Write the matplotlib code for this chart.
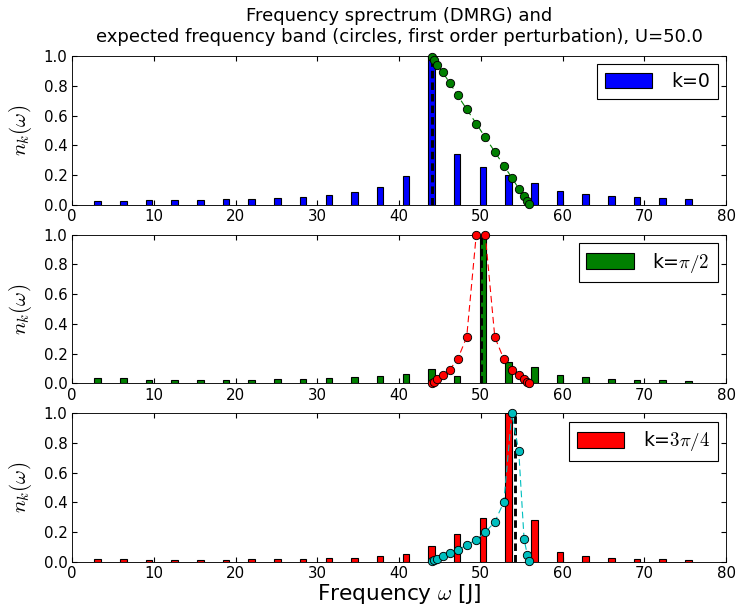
import matplotlib
matplotlib.use("Agg")
import matplotlib.pyplot as plt

plt.rcParams['mathtext.fontset'] = 'cm'
plt.rcParams['font.family'] = ['DejaVu Sans']
plt.rcParams['xtick.direction'] = 'in'
plt.rcParams['ytick.direction'] = 'in'
plt.rcParams['xtick.top'] = True
plt.rcParams['ytick.right'] = True
plt.rcParams['font.size'] = 12

# DMRG frequency grid (omega = n*pi)
freqs = [3.14, 6.28, 9.42, 12.57, 15.71, 18.85, 21.99, 25.13, 28.27, 31.42,
         34.56, 37.70, 40.84, 43.98, 47.12, 50.27, 53.41, 56.55, 59.69, 62.83,
         65.97, 69.12, 72.26, 75.40]

# spectral weights n_k(omega)
n_k0 = [0.027, 0.029, 0.036, 0.036, 0.036, 0.038, 0.043, 0.049, 0.056, 0.067,
        0.085, 0.121, 0.197, 1.0, 0.342, 0.253, 0.201, 0.150, 0.096, 0.074,
        0.063, 0.056, 0.047, 0.043]
n_kpi2 = [0.034, 0.034, 0.025, 0.022, 0.022, 0.022, 0.025, 0.027, 0.029, 0.034,
          0.040, 0.049, 0.061, 0.096, 0.052, 1.0, 0.141, 0.112, 0.056, 0.040,
          0.029, 0.022, 0.020, 0.016]
n_k3pi4 = [0.020, 0.016, 0.011, 0.013, 0.013, 0.013, 0.016, 0.018, 0.020, 0.022,
           0.027, 0.036, 0.049, 0.106, 0.184, 0.294, 1.0, 0.281, 0.063, 0.038,
           0.025, 0.018, 0.016, 0.011]

# first-order perturbation band
band_w = [44.05, 44.3, 44.7, 45.35, 46.2, 47.18, 48.28, 49.45, 50.55, 51.72,
          52.82, 53.8, 54.65, 55.3, 55.7, 55.95]
band_k0 = [0.996, 0.975, 0.94, 0.89, 0.82, 0.735, 0.643, 0.546, 0.454, 0.357,
           0.265, 0.183, 0.11, 0.058, 0.025, 0.004]
band_kpi2 = [0.004, 0.012, 0.027, 0.054, 0.092, 0.163, 0.311, 1.0, 1.0, 0.311,
             0.163, 0.092, 0.054, 0.027, 0.012, 0.004]
band_k3pi4 = [0.003, 0.010, 0.020, 0.036, 0.056, 0.079, 0.112, 0.148, 0.198, 0.268,
              0.402, 1.0, 0.744, 0.153, 0.045, 0.007]

# expected peak positions
peak_w = [44.0, 50.0, 54.24]

labels = ['k=0', r'k=$\pi/2$', r'k=$3\pi/4$']
bar_colors = ['#0000ff', '#008000', '#ff0000']
band_colors = ['#008000', '#ff0000', '#00bfbf']
spectra = [n_k0, n_kpi2, n_k3pi4]
bands = [band_k0, band_kpi2, band_k3pi4]

W, H = 737, 615
fig = plt.figure(figsize=(W / 80, H / 80), dpi=80)
boxes = [(56, 205), (234.7, 383.3), (413.3, 561.7)]
left, right = 72, 726

axes = []
for i, (t, b) in enumerate(boxes):
    ax = fig.add_axes([left / W, 1 - b / H, (right - left) / W, (b - t) / H])
    ax.bar(freqs, spectra[i], width=0.8, color=bar_colors[i], edgecolor='black',
           linewidth=1.0, label=labels[i], zorder=2)
    ax.plot([peak_w[i], peak_w[i]], [0, 1], color='black', lw=2.6,
            linestyle=(0, (2.6, 1.4)), zorder=3)
    ax.plot(band_w, bands[i], color=band_colors[i], lw=1.0,
            linestyle=(0, (6, 3.5)), marker='o', markersize=7.5,
            markerfacecolor=band_colors[i], markeredgecolor='black',
            markeredgewidth=0.8, zorder=4, clip_on=False)
    ax.set_xlim(0, 80)
    ax.set_ylim(0, 1)
    ax.set_xticks(range(0, 81, 10))
    ax.set_yticks([0.0, 0.2, 0.4, 0.6, 0.8, 1.0])
    ax.set_yticklabels(['0.0', '0.2', '0.4', '0.6', '0.8', '1.0'])
    ax.tick_params(length=4.5, width=1, labelsize=13.5, pad=4)
    ax.set_ylabel(r'$n_k(\omega)$', fontsize=19)
    ax.yaxis.set_label_coords(-0.058, 0.5)
    leg = ax.legend(loc='upper right', fontsize=17, fancybox=False,
                    framealpha=1, edgecolor='black', handlelength=2.5,
                    handleheight=0.9, borderaxespad=0.45, borderpad=0.4,
                    handletextpad=1.0)
    leg.get_frame().set_linewidth(1.0)
    axes.append(ax)

axes[0].set_title('Frequency sprectrum (DMRG) and\nexpected frequency band '
                  '(circles, first order perturbation), U=50.0',
                  fontsize=16.2, pad=12.5)
axes[2].set_xlabel(r'Frequency $\omega$ [J]', fontsize=19.5, labelpad=1)

fig.savefig('out.png', dpi=80, facecolor='white')
